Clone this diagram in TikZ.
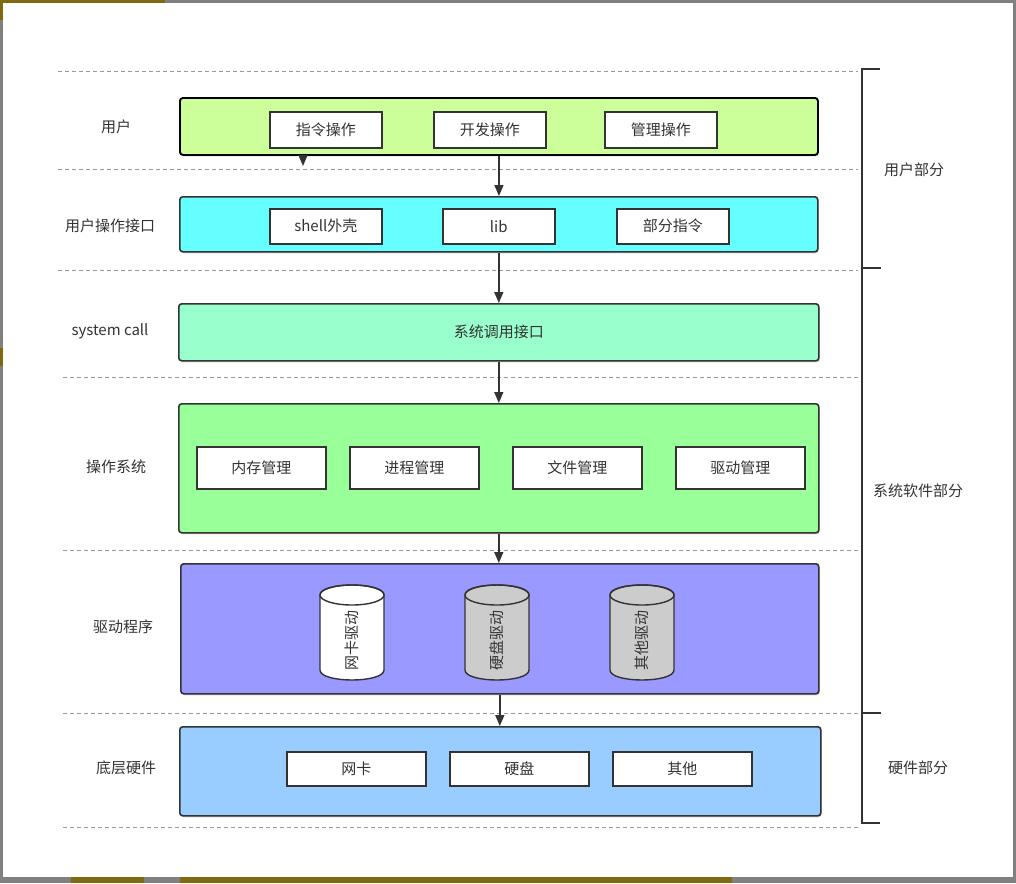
\documentclass[tikz,border=0pt]{standalone}
\usepackage{fontspec}
\setmainfont{Noto Sans CJK SC}
\usetikzlibrary{arrows.meta,shadows,calc}
\definecolor{txt}{HTML}{333333}
\definecolor{edge}{HTML}{333333}
\definecolor{olive}{HTML}{7F6A12}
\tikzset{
  every node/.style={font=\fontsize{15pt}{17pt}\selectfont, text=txt, inner sep=0pt},
  layer/.style={draw=edge, line width=1.6pt, rounded corners=3pt, anchor=north west,
    drop shadow={shadow xshift=1pt, shadow yshift=-1.5pt, opacity=0.35}},
  item/.style={draw=edge, line width=1.6pt, fill=white, anchor=north west,
    drop shadow={shadow xshift=1pt, shadow yshift=-1.5pt, opacity=0.35}},
  sep/.style={draw=black!40, line width=0.9pt, dash pattern=on 4pt off 3pt},
  arr/.style={draw=edge, line width=1.5pt, -{Triangle[length=11pt,width=9pt]}},
  brk/.style={draw=edge, line width=1.8pt},
  cyl/.style={draw=edge, line width=1.4pt},
}
\begin{document}
\begin{tikzpicture}[x=1pt,y=-1pt]
\useasboundingbox (0,0) rectangle (1016,883);
% screenshot frame
\fill[black!50] (0,0) rectangle (1016,883);
\fill[olive] (0,0) rectangle (165,4);
\fill[olive] (0,0) rectangle (3,20);
\fill[olive] (0,348) rectangle (3,366);
\fill[olive] (71,877) rectangle (144,883);
\fill[olive] (180,877) rectangle (732,883);
\fill[white] (3,3) rectangle (1013,877);

% separators
\draw[sep] (58,71) -- (858,71);
\draw[sep] (58,169) -- (858,169);
\draw[sep] (58,270) -- (858,270);
\draw[sep] (63,377) -- (858,377);
\draw[sep] (63,550) -- (860,550);
\draw[sep] (63,713) -- (860,713);
\draw[sep] (63,827) -- (860,827);

% brackets
\coordinate (b0) at (862,69);
\coordinate (b1) at (862,268);
\coordinate (b2) at (862,713);
\coordinate (b3) at (862,823);
\draw[brk] ($(b0)+(18,0)$) -- (b0) -- (b3) -- ++(18,0);
\draw[brk] (b1) -- ++(19,0);
\draw[brk] (b2) -- ++(19,0);
\node (p1) at (914,170) {用户部分};
\node (p2) at (918,491) {系统软件部分};
\node (p3) at (918,768) {硬件部分};

% left labels
\node (l1) at (116,127) {用户};
\node (l2) at (110,226) {用户操作接口};
\node (l3) at (110,331) {system call};
\node (l4) at (116,467) {操作系统};
\node (l5) at (123,627) {驱动程序};
\node (l6) at (126,768) {底层硬件};

% layers
\node[layer, draw=black, line width=1.9pt, fill={rgb,255:red,204;green,255;blue,153}, minimum width=638pt, minimum height=57pt] (user) at (179,97) {};
\node[layer, fill={rgb,255:red,102;green,255;blue,255}, minimum width=638pt, minimum height=55pt] (iface) at (179,196) {};
\node[layer, fill={rgb,255:red,153;green,255;blue,204}, minimum width=640pt, minimum height=57pt] (sys) at (178,303) {系统调用接口};
\node[layer, fill={rgb,255:red,153;green,255;blue,153}, minimum width=640pt, minimum height=129pt] (os) at (178,403) {};
\node[layer, fill={rgb,255:red,153;green,153;blue,255}, minimum width=638pt, minimum height=130pt] (drv) at (180,563) {};
\node[layer, fill={rgb,255:red,153;green,204;blue,255}, minimum width=641pt, minimum height=89pt] (hw) at (179,726) {};

% user items
\node[item, minimum width=112pt, minimum height=36pt] (u1) at (269,111) {指令操作};
\node[item, minimum width=112pt, minimum height=36pt] (u2) at (433,111) {开发操作};
\node[item, minimum width=112pt, minimum height=36pt] (u3) at (604,111) {管理操作};
% interface items
\node[item, minimum width=112pt, minimum height=35pt] (i1) at (269,208) {shell外壳};
\node[item, minimum width=112pt, minimum height=35pt] (i2) at (442,208) {lib};
\node[item, minimum width=112pt, minimum height=35pt] (i3) at (616,208) {部分指令};
% os items
\node[item, minimum width=129pt, minimum height=42pt] (o1) at (196,446) {内存管理};
\node[item, minimum width=129pt, minimum height=42pt] (o2) at (349,446) {进程管理};
\node[item, minimum width=129pt, minimum height=42pt] (o3) at (512,446) {文件管理};
\node[item, minimum width=129pt, minimum height=42pt] (o4) at (675,446) {驱动管理};
% hardware items
\node[item, minimum width=139pt, minimum height=34pt] (h1) at (286,751) {网卡};
\node[item, minimum width=139pt, minimum height=34pt] (h2) at (449,751) {硬盘};
\node[item, minimum width=139pt, minimum height=34pt] (h3) at (612,751) {其他};

% cylinders
\foreach \cx/\col/\lab/\nm in {352/white/网卡驱动/c1, 497/black!20/硬盘驱动/c2, 642/black!20/其他驱动/c3}{
  \filldraw[cyl, fill=\col] (\cx-32,595) -- (\cx-32,670)
     .. controls (\cx-32,683.3) and (\cx+32,683.3) .. (\cx+32,670)
     -- (\cx+32,595)
     .. controls (\cx+32,581.7) and (\cx-32,581.7) .. (\cx-32,595) -- cycle;
  \draw[cyl] (\cx,595) ellipse[x radius=32, y radius=10];
  \node[rotate=90] (\nm) at (\cx,640) {\lab};
}

% arrows
\draw[arr] (user.south) -- (user.south |- iface.north);
\draw[arr] (iface.south) -- (iface.south |- sys.north);
\draw[arr] (sys.south) -- (sys.south |- os.north);
\draw[arr] (os.south) -- (os.south |- drv.north);
\draw[arr] (drv.south) -- (drv.south |- hw.north);
\coordinate (t1) at (303,166);
\draw[arr] (user.south -| t1) -- (t1);
\end{tikzpicture}
\end{document}
